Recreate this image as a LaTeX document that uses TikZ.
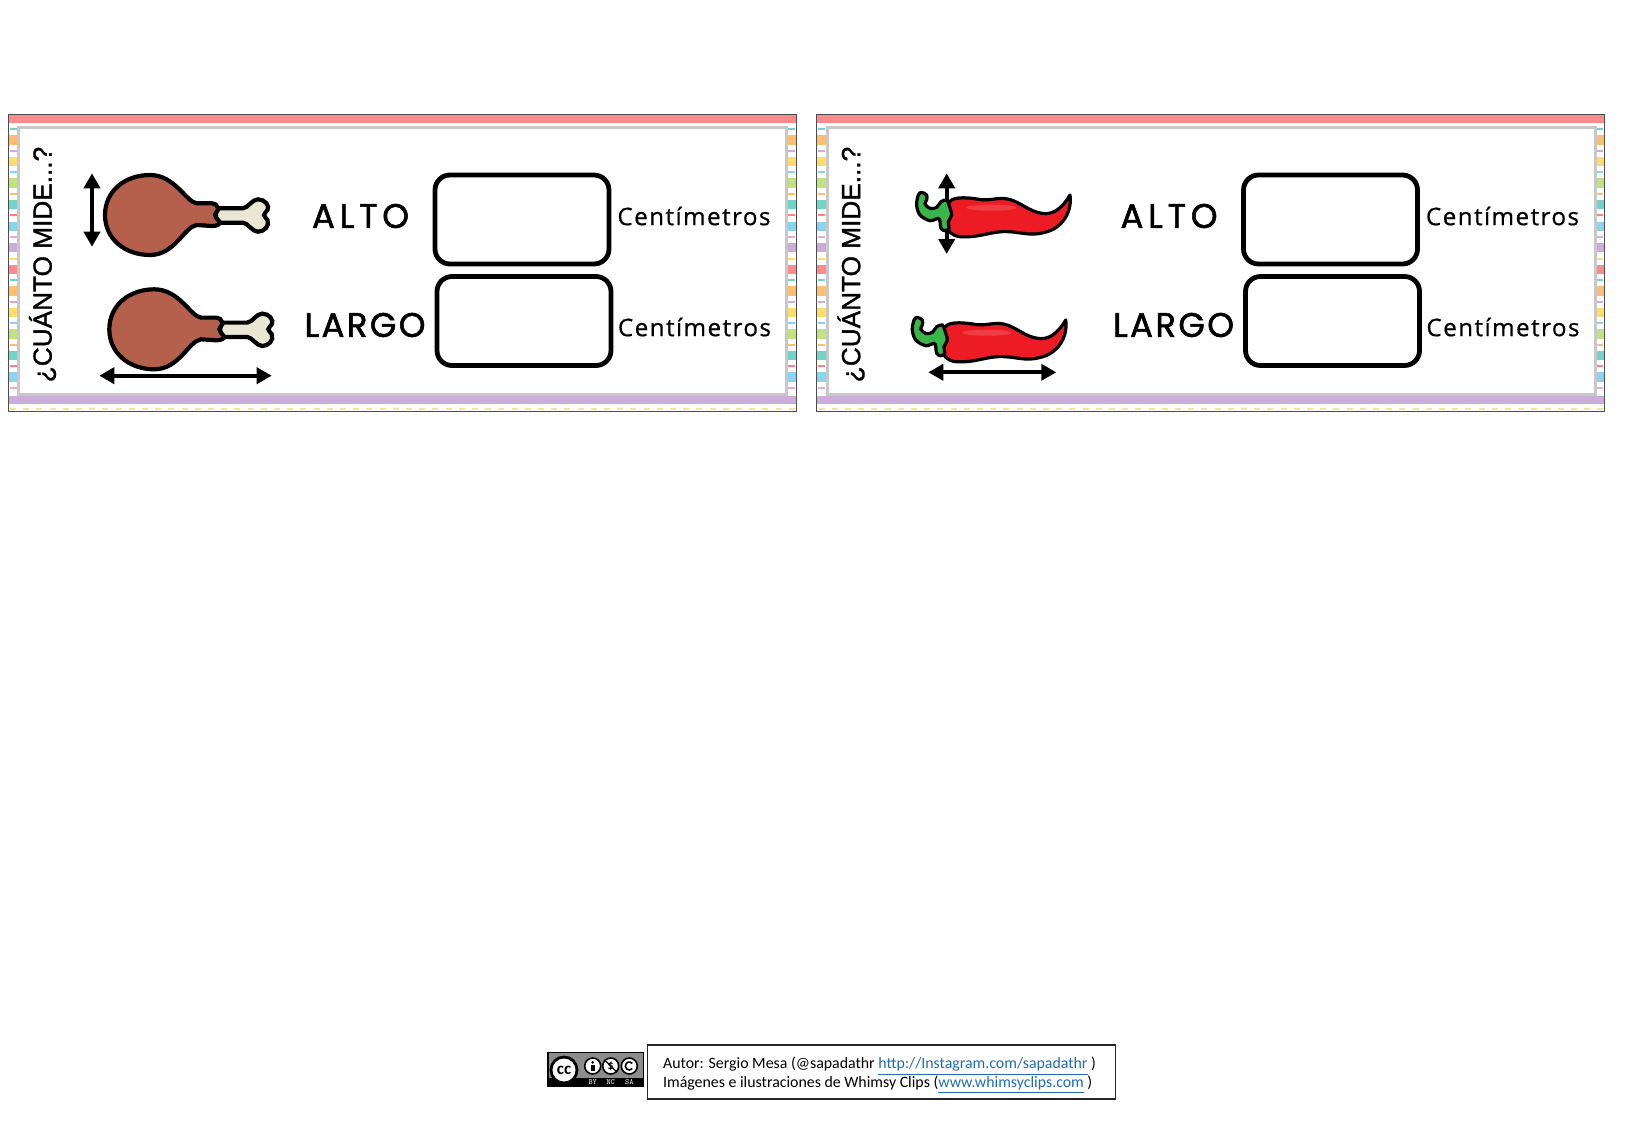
\documentclass[tikz,border=0pt]{standalone}
\usepackage{fontspec}
\usetikzlibrary{arrows.meta,calc}
\setmainfont{Carlito}
\newfontfamily\fuenteTitulo[LetterSpace=7,FakeBold=1.6,Kerning=Off]{Poppins}
\newfontfamily\fuenteUnidad[LetterSpace=6,FakeBold=0.6]{Open Sans}
\newfontfamily\fuentePregunta[FakeBold=1.2]{Liberation Sans}
\definecolor{bandaRosa}{HTML}{FF8A8E}
\definecolor{bandaLila}{HTML}{CAADD8}
\definecolor{marcoGris}{HTML}{C8C8C8}
\definecolor{cNaranja}{HTML}{FFBE6E}
\definecolor{cAmarillo}{HTML}{FFDD6B}
\definecolor{cPunto}{HTML}{F7E68A}
\definecolor{cVerde}{HTML}{C2E17F}
\definecolor{cTeal}{HTML}{74D3C8}
\definecolor{cAzul}{HTML}{8AD3F1}
\definecolor{cRojo}{HTML}{FF7F86}
\definecolor{cRosa}{HTML}{F0A9C9}
\definecolor{carne}{HTML}{B5604D}
\definecolor{hueso}{HTML}{E9E6D3}
\definecolor{chile}{HTML}{ED1C24}
\definecolor{rabito}{HTML}{39B54A}
\definecolor{enlace}{HTML}{1F6DB5}
\tikzset{
  caja/.style={draw, line width=2.4pt, rounded corners=7.5pt, minimum width=87pt, minimum height=44.5pt},
  titulo/.style={font=\fuenteTitulo\fontsize{17}{20}\selectfont, inner sep=0pt},
  unidad/.style={font=\fuenteUnidad\fontsize{12.1}{14}\selectfont, inner sep=0pt},
  pregunta/.style={font=\fuentePregunta\fontsize{13.1}{15}\selectfont, rotate=90, inner sep=0pt},
  medida/.style={{Triangle[length=7.5pt,width=8pt]}-{Triangle[length=7.5pt,width=8pt]}, line width=2pt},
  icono/.style={circle, draw=black, line width=.8pt, fill=white, minimum size=8pt, inner sep=0pt, font=\bfseries\fontsize{6}{6}\selectfont},
  letrero/.style={white!85!black, inner sep=0pt, font=\ttfamily\bfseries\fontsize{4}{4}\selectfont},
  pics/muslo/.style={code={
    \draw[line width=2.1pt, fill=hueso] (66,-6.7) -- (93,-6.7) .. controls (98,-7) and (102,-15.7) .. (108,-15.7)
      .. controls (115,-15.7) and (120,-9) .. (117.5,-5) .. controls (116,-2) and (114,-2) .. (114,0)
      .. controls (114,2) and (116,2) .. (117.5,5) .. controls (120,11) and (114,16.7) .. (108,16.7)
      .. controls (102,16.7) and (98,8) .. (93,7.7) -- (66,7.7) -- cycle;
    \draw[line width=2.1pt, fill=carne] (46.7,-11.7) .. controls (36,-13) and (25,-40) .. (0,-40)
      .. controls (-25,-40) and (-45,-24) .. (-45,0) .. controls (-45,24) and (-25,40) .. (0,40)
      .. controls (25,40) and (34,12) .. (46.7,10) -- (62,11) .. controls (67,11) and (71,9) .. (69.5,6.7)
      .. controls (68,4) and (65,3) .. (65,0) .. controls (65,-3) and (69,-4) .. (68,-7)
      .. controls (67,-10) and (65,-11.7) .. (62,-11.7) -- cycle;
  }},
  pics/guindilla/.style={code={
    \draw[line width=1.6pt, line join=round, fill=chile] (-45,-13) .. controls (-42,-20) and (-30,-20) .. (-12,-17)
      .. controls (0,-16) and (8,-21) .. (20,-16) .. controls (32,-11) and (38,-4) .. (52,-3)
      .. controls (63,-3) and (71,-12) .. (76.7,-21.7) .. controls (79,-6) and (70,12) .. (50,16)
      .. controls (35,20) and (25,14) .. (8,15) .. controls (-6,16) and (-15,21) .. (-33,20)
      .. controls (-42,19) and (-46,14) .. (-47,8) -- cycle;
    \fill[white, opacity=.15] (-2,-9) ellipse (25 and 3);
    \draw[line width=1.6pt, fill=rabito] plot[smooth cycle, tension=.55] coordinates {
      (-71.7,-24.3) (-66.7,-21.7) (-66.7,-16.7) (-68.3,-12.7) (-63.3,-8.3) (-56.7,-9.3) (-52.3,-15)
      (-46.7,-16.7) (-44.3,-11.7) (-41.7,-1.7) (-45,5) (-44.3,11.7) (-48.3,14) (-52.3,11.7)
      (-53.3,5) (-55,1.7) (-63.3,4) (-73.3,-1.7) (-76.7,-11.7) (-75,-21.7)};
  }},
}
\begin{document}
\begin{tikzpicture}[x=0.5pt, y=-0.5pt]
  \useasboundingbox (0,0) rectangle (1625,1125);

  \foreach \dx/\lado in {0/L, 808.5/R}{
  \begin{scope}[xshift={\dx*0.5pt}]
    \fill[white] (8,114) rectangle (796,411);
    % rayas de los lados
    \foreach \sx in {8,786}{
      \foreach \c [count=\n from 0] in {cTeal,cNaranja,bandaLila,cAmarillo,cAzul,cVerde,cNaranja,cTeal,cRojo,cAzul,cRosa,bandaLila,cAmarillo,bandaRosa,cTeal,cNaranja,bandaLila,cAmarillo,cAzul,cVerde,cNaranja,cTeal,cRojo,cAzul,cRosa}{
        \pgfmathsetmacro\yy{129.3+\n*10.77}
        \ifodd\n
          \fill[\c] (\sx,{\yy-4.7}) rectangle ++(10,9.4);
        \else
          \fill[\c] ({\sx+1.5},{\yy-1}) rectangle ++(7,2);
        \fi
      }
    }
    \fill[bandaRosa] (8,114) rectangle (796,123.3);
    \fill[bandaLila] (8,396) rectangle (796,404);
    \draw[cPunto, line width=1.1pt, dash pattern=on 3pt off 3.6pt] (10,409) -- (795,409);
    \draw[marcoGris, line width=1.4pt, fill=white] (18.7,127.3) rectangle (786.8,394.5);
    \draw[black!70, line width=.5pt] (8,114) rectangle (796,411);

    \node[pregunta] (pregunta-\lado) at (42.5,264.5) {¿CUÁNTO MIDE...?};
    \node[titulo] (alto-\lado) at (360.5,216) {\addfontfeature{LetterSpace=14}ALTO};
    \node[titulo] (largo-\lado) at (365,325) {LARGO};
    \node[caja] (cajaAlto-\lado) at (522,219.5) {};
    \node[caja] (cajaLargo-\lado) at (524,321) {};
    \node[unidad] (cmAlto-\lado) at (694,216) {Centímetros};
    \node[unidad] (cmLargo-\lado) at (694.5,327) {Centímetros};
  \end{scope}
  }

  % muslos
  \coordinate (altoArriba) at (92,173.3);
  \coordinate (altoAbajo) at (92,246.7);
  \coordinate (largoIzq) at (99.3,375.7);
  \coordinate (largoDer) at (271.7,375.7);
  \draw[medida] (altoArriba) -- (altoAbajo);
  \pic at (150,215) {muslo};
  \pic at (154.3,329.3) {muslo};
  \draw[medida] (largoIzq) -- (largoDer);

  % guindillas
  \coordinate (chileArriba) at (946.7,173.3);
  \coordinate (chileAbajo) at (946.7,254);
  \coordinate (chileIzq) at (928.3,372.3);
  \coordinate (chileDer) at (1056.3,372.3);
  \draw[medida] (chileArriba) -- (chileAbajo);
  \pic at (993.3,216.7) {guindilla};
  \pic at (989,341.7) {guindilla};
  \draw[medida] (chileIzq) -- (chileDer);

  % creditos
  \node[draw=black!85, line width=.9pt, minimum width=234pt, minimum height=27pt, inner sep=0pt] (autor) at (881.5,1072) {};
  \node[align=left, inner sep=0pt, font=\fontsize{7.93}{9.35}\selectfont] (autorTexto) at (879.5,1075.4)
    {Autor: Sergio Mesa (@sapadathr \textcolor{enlace}{\underline{http://Instagram.com/sapadathr}} )\\
     Imágenes e ilustraciones de Whimsy Clips (\textcolor{enlace}{\underline{www.whimsyclips.com}} )};
  \fill[black] (547.3,1051.7) rectangle (644.3,1087.3);
  \fill[black!45] (549.3,1053.3) rectangle (642.7,1078.3);
  \node[circle, draw=black, line width=1.4pt, fill=white, minimum size=13pt, inner sep=0pt, font=\bfseries\fontsize{8.5}{8}\selectfont] (cc) at (564,1070) {cc};
  \node[icono] (by) at (592.7,1066) {};
  \fill ($(by.center)+(0,-3.6)$) circle (1.5);
  \fill ($(by.center)+(-2.2,-1)$) rectangle ($(by.center)+(2.2,5)$);
  \node[icono] (nc) at (610.7,1066) {\$};
  \draw[line width=.6pt] (nc.north west) -- (nc.south east);
  \node[icono] (sa) at (629.3,1066) {};
  \draw[line width=.8pt] ([shift={(40:4)}]sa.center) arc (40:320:4);
  \foreach \t/\xt in {BY/592.7, NC/610.7, SA/629.3}{
    \node[letrero] (txt\t) at (\xt,1082) {\t};
  }
\end{tikzpicture}
\end{document}
